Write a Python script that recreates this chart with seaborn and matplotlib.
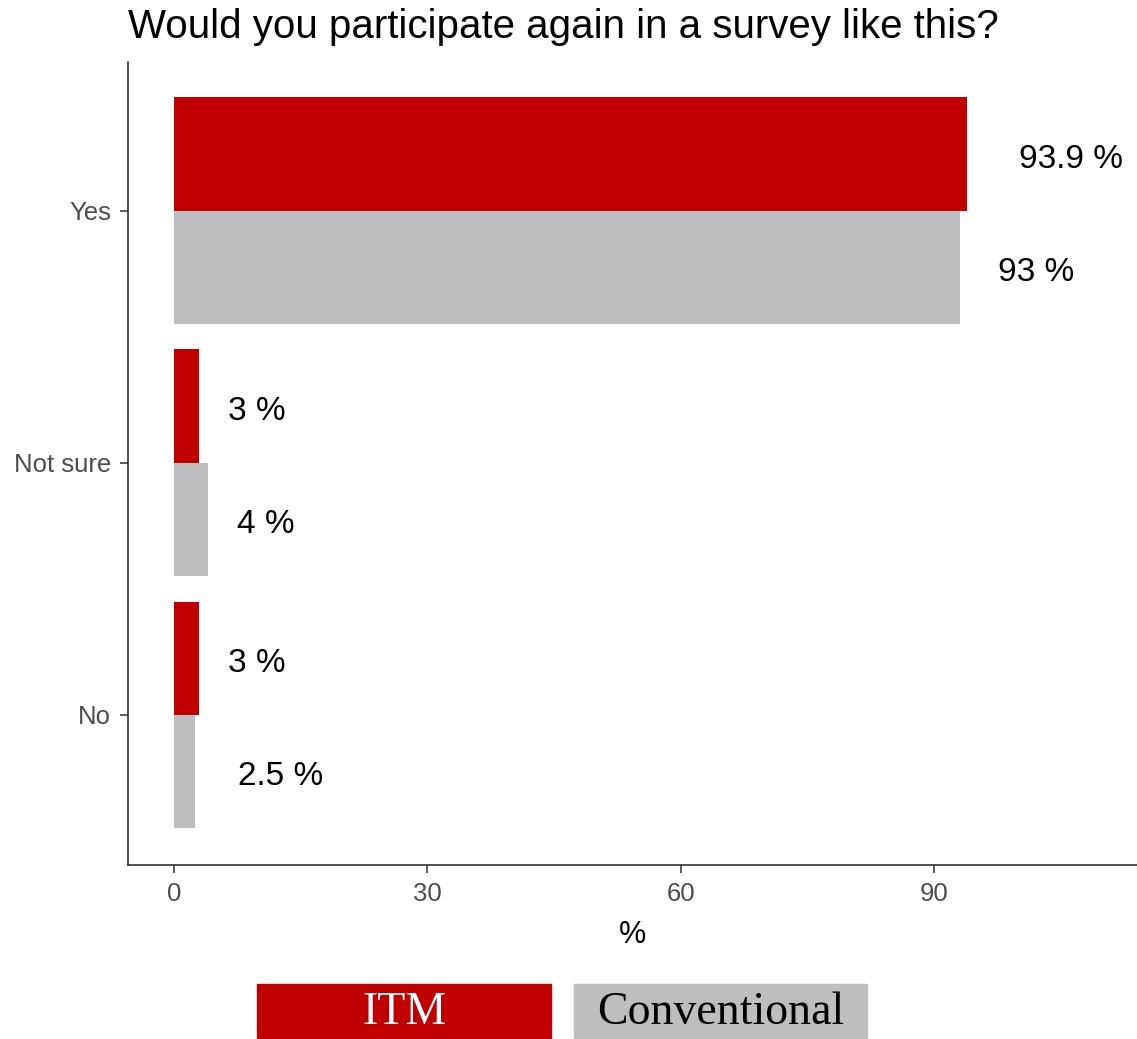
import pandas as pd
import matplotlib.pyplot as plt
import seaborn as sns
from matplotlib.patches import Rectangle

# Data
responses = ["Yes", "Not sure", "No"]
groups = ["ITM", "Conventional"]
itm_pct = [93.9, 3, 3]
conv_pct = [93, 4, 2.5]
colors = {"ITM": "#C00000", "Conventional": "#BEBEBE"}

df = pd.DataFrame({
    "response": responses * 2,
    "group": ["ITM"] * 3 + ["Conventional"] * 3,
    "pct": itm_pct + conv_pct,
})

sns.set_theme(style="ticks")
plt.rcParams["font.family"] = ["Liberation Sans", "DejaVu Sans"]

fig = plt.figure(figsize=(11.37, 10.39), dpi=100)
ax = fig.add_axes([128 / 1137, 1 - 865 / 1039, 1 - 128 / 1137, (865 - 62) / 1039])

sns.barplot(
    data=df, x="pct", y="response", hue="group",
    order=responses, hue_order=groups, palette=colors,
    orient="h", width=0.9, saturation=1, errorbar=None,
    linewidth=0, legend=False, ax=ax,
)

ax.set_xlim(-5.45, 114.0)
ax.set_ylim(2.595, -0.59)
ax.set_xticks([0, 30, 60, 90])
ax.set_xlabel("%", fontsize=22, color="black", labelpad=10)
ax.set_ylabel("")
ax.tick_params(axis="both", labelsize=18.5, labelcolor="#4D4D4D",
               color="#333333", length=6, width=1.1, pad=6)
sns.despine(ax=ax)
for s in ["left", "bottom"]:
    ax.spines[s].set_linewidth(1.1)
    ax.spines[s].set_color("#222222")

ax.set_title("Would you participate again in a survey like this?",
             loc="left", fontsize=29, color="black", pad=17, x=0.0)

# value labels, nudged right by their own width
texts = []
for cont in ax.containers:
    for bar in cont:
        w = bar.get_width()
        yc = bar.get_y() + bar.get_height() / 2
        t = ax.annotate(f"{w:g} %", xy=(w, yc), xytext=(0, -5),
                        textcoords="offset pixels", ha="left", va="center",
                        fontsize=24, color="black")
        texts.append(t)
fig.canvas.draw()
r = fig.canvas.get_renderer()
for t in texts:
    tw = t.get_window_extent(r).width
    t.xyann = (0.5 * tw, -5)

# legend boxes below the plot
for (x0, x1), g, tc in [((257, 551), "ITM", "white"), ((574, 867), "Conventional", "black")]:
    fig.patches.append(Rectangle((x0 / 1137, 1 / 1039), (x1 - x0) / 1137, 54 / 1039,
                                 transform=fig.transFigure, color=colors[g]))
    fig.text((x0 + x1) / 2 / 1137, 26 / 1039, g, ha="center", va="center",
             fontsize=33, color=tc, family=["Liberation Serif", "DejaVu Serif"])

fig.savefig("out.png", dpi=100)
